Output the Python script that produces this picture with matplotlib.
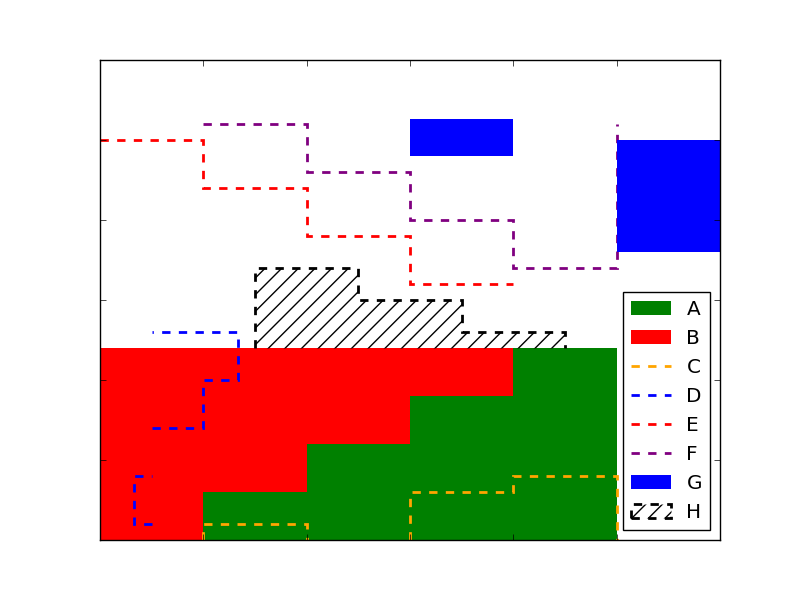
import numpy as np
import matplotlib
matplotlib.use("Agg")
import matplotlib.pyplot as plt

plt.style.use("classic")

# Bin edges and step values for each series
a_edges = [1, 2, 3, 4, 5]
a_vals = [3, 6, 9, 12]

b_edges = [0, 3, 6, 9, 12]
b_vals = [1, 2, 3, 4]

c_edges = [1, 2, 3, 4, 5]
c_vals = [1, np.nan, 3, 4]

d_edges = [1, 4, 7, 10, 13]
d_vals = [1 / 3, np.nan, 1, 4 / 3]
d_base = 0.5

e_edges = [0, 1, 2, 3, 4]
e_vals = [25, 22, 19, 16]

f_edges = [1, 2, 3, 4, 5]
f_vals = [26, 23, 20, 17]
f_base = 26

g_edges = [2, 3, 4, 5, 6]
g_vals = [27, 24, np.nan, 18]
g_base = [27, 79 / 3, 77 / 3, 25]

h_edges = [1.5, 2.5, 3.5, 4.5]
h_vals = [17, 15, 13]
h_base = 12

fig, ax = plt.subplots(figsize=(8, 6), dpi=100)

ax.stairs(a_vals, a_edges, color="green", fill=True, label="A")
ax.stairs(b_vals, b_edges, color="red", fill=True,
          orientation="horizontal", label="B")
ax.stairs(c_vals, c_edges, color="orange", ls="--", lw=2, label="C")
ax.stairs(d_vals, d_edges, ls="--", lw=2, baseline=d_base,
          orientation="horizontal", label="D")
ax.stairs(e_vals, e_edges, color="red", ls="--", lw=2, baseline=None,
          label="E")
ax.stairs(f_vals, f_edges, baseline=f_base, color="purple", ls="--", lw=2,
          label="F")
ax.stairs(g_vals, g_edges, baseline=np.array(g_base), color="blue", ls="--",
          fill=True, label="G")
ax.stairs(h_vals, h_edges, color="black", ls="--", lw=2, baseline=h_base,
          hatch="//", label="H")

ax.legend(loc="lower right")

ax.set_xlim(0, 6)
ax.set_ylim(0, 30)
ax.tick_params(labelbottom=False, labelleft=False)

fig.savefig("out.png", dpi=100)
